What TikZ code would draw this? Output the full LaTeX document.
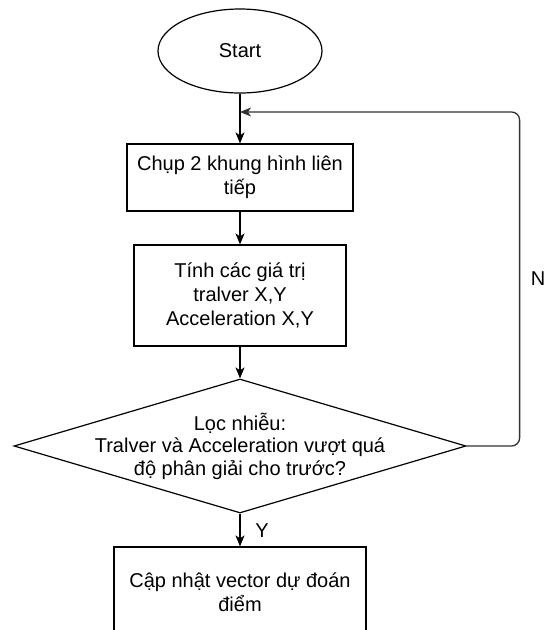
\documentclass[tikz,border=0pt]{standalone}
\usepackage{fontspec}
\setmainfont{Liberation Sans}
\usetikzlibrary{graphs,positioning,shapes.geometric,arrows.meta}
\tikzset{
    term/.style ={
        shape=ellipse,
        draw=black,
        line width=1.2pt,
        minimum width=164pt,
        minimum height=84pt
    },
    proc/.style ={
        shape=rectangle,
        draw=black,
        line width=1.2pt,
        align=center,
        inner sep=0pt
    },
    decision/.style ={
        shape=diamond,
        draw=black,
        line width=1.2pt,
        inner sep=0pt,
        minimum width=452pt,
        minimum height=134pt
    },
    loopline/.style ={
        draw=black!80,
        line width=1.3pt,
        rounded corners=8pt,
        ->
    }
}

\begin{document}
\begin{tikzpicture}[x=1pt,y=-1pt,
    font=\fontsize{20}{24}\selectfont,
    >={Stealth[length=11pt,width=9pt,inset=3pt]}]
    \useasboundingbox (0,0) rectangle (549,630);
    \clip (0,0) rectangle (549,630);
    \node[term] (start) at(240,51) {Start};
    \node[proc, minimum width=226pt, minimum height=67pt] (chup) at(240,177.5) {Chụp 2 khung hình liên\\tiếp};
    \node[proc, minimum width=212pt, minimum height=101pt] (tinh) at(240,295.5) {Tính các giá trị\\tralver X,Y\\Acceleration X,Y};
    \node[decision] (loc) at(240,446) {};
    \node[align=center, font=\fontsize{20}{22.5}\selectfont] (loctxt) at(loc) {Lọc nhiễu:\\Tralver và Acceleration vượt quá\\độ phân giải cho trước?};
    \node[proc, minimum width=252pt, minimum height=90pt] (capnhat) at(240,592) {Cập nhật vector dự đoán\\điểm};
    \node (ylbl) at(262,531) {Y};
    \node (nlbl) at(538,279) {N};
    \coordinate (back) at(240,112);
    \graph[edges={line width=1.6pt}]{
        (start)->(chup)->(tinh)->(loc)->(capnhat);
    };
    \draw[loopline] (loc.east) -- ++(53,0) |- (back);
\end{tikzpicture}
\end{document}
